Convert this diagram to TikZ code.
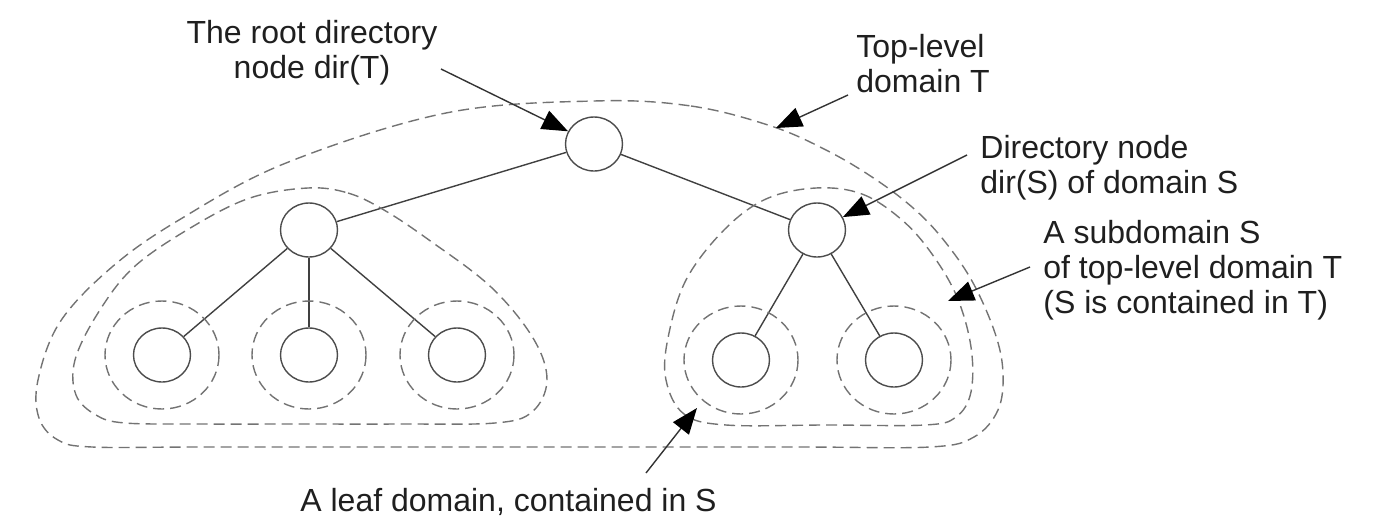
\documentclass[tikz,border=0pt]{standalone}
\usepackage{fontspec}
\setmainfont{Liberation Sans}
\usetikzlibrary{shapes.geometric,arrows.meta}
\begin{document}
\begin{tikzpicture}[x=0.5pt,y=-0.5pt,
  tnode/.style={ellipse,draw=black!70,line width=0.7pt,minimum width=28.5pt,minimum height=27pt,inner sep=0pt},
  link/.style={draw=black!75,line width=0.7pt},
  dom/.style={draw=black!55,line width=0.7pt,dash pattern=on 5.5pt off 3pt},
  arr/.style={draw=black!80,line width=0.7pt,-{Triangle[length=13pt,width=10pt,fill=black,color=black]}},
  lbl/.style={font=\fontsize{16pt}{17.5pt}\selectfont,text=black!88,inner sep=0pt}]
\path[use as bounding box] (0,0) rectangle (1389,525);

% tree nodes
\node[tnode] (root) at (594,144) {};
\node[tnode] (mL) at (309,230) {};
\node[tnode] (dS) at (817,230) {};
\node[tnode] (l1) at (162,355) {};
\node[tnode] (l2) at (309,355) {};
\node[tnode] (l3) at (457,355) {};
\node[tnode] (r1) at (741,360) {};
\node[tnode] (r2) at (894,360) {};

% edges
\draw[link] (root) -- (mL);
\draw[link] (root) -- (dS);
\draw[link] (mL) -- (l1);
\draw[link] (mL) -- (l2);
\draw[link] (mL) -- (l3);
\draw[link] (dS) -- (r1);
\draw[link] (dS) -- (r2);

% leaf domains
\foreach \n in {l1,l2,l3,r1,r2}
  \draw[dom] (\n) ellipse [x radius=57, y radius=54];

% subdomain left
\draw[dom] plot[smooth cycle, tension=0.6] coordinates {
 (308,188) (348,193) (384,210) (429,240) (491,287) (533,338) (547,380) (532,412) (495,423)
 (400,424) (300,424) (200,424) (125,423) (96,415) (76,395) (75,360) (98,313) (134,267) (192,227) (250,198)};

% subdomain S
\draw[dom] plot[smooth cycle, tension=0.6] coordinates {
 (816,188) (862,194) (902,220) (932,254) (957,297) (971,347) (971,392) (956,417) (925,425)
 (826,425) (726,425) (684,414) (666,380) (668,338) (686,280) (724,230) (766,199)};

% top-level domain T
\draw[dom] plot[smooth cycle, tension=0.6] coordinates {
 (594,101) (691,106) (771,126) (826,150) (872,177) (912,207) (942,238) (972,281) (995,333)
 (1003,373) (998,410) (974,437) (930,447) (800,447) (600,447) (400,447) (200,447) (92,447)
 (58,440) (39,418) (38,380) (60,322) (112,267) (179,220) (286,163) (446,113)};

% labels
\node[lbl,align=center,anchor=base] (tRoot) at (312,78) {The root directory\\node dir(T)};
\node[lbl,align=left,anchor=base west] (tTop) at (856,92) {Top-level\\domain T};
\node[lbl,align=left,anchor=base west] (tDir) at (980,193) {Directory node\\dir(S) of domain S};
\node[lbl,align=left,anchor=base west] (tSub) at (1043,313) {A subdomain S\\of top-level domain T\\(S is contained in T)};
\node[lbl,anchor=base west] (tLeaf) at (300,511) {A leaf domain, contained in S};

% arrow ends
\coordinate (aRoot) at (441,69);
\coordinate (aTopS) at (848,95);
\coordinate (aTopE) at (776,128);
\coordinate (aDir) at (967,155);
\coordinate (aSubS) at (1030,267);
\coordinate (aSubE) at (948,301);
\coordinate (aLeafS) at (646,473);
\coordinate (aLeafE) at (697,408);

\draw[arr] (aRoot) -- (root);
\draw[arr] (aTopS) -- (aTopE);
\draw[arr] (aDir) -- (dS);
\draw[arr] (aSubS) -- (aSubE);
\draw[arr] (aLeafS) -- (aLeafE);
\end{tikzpicture}
\end{document}
